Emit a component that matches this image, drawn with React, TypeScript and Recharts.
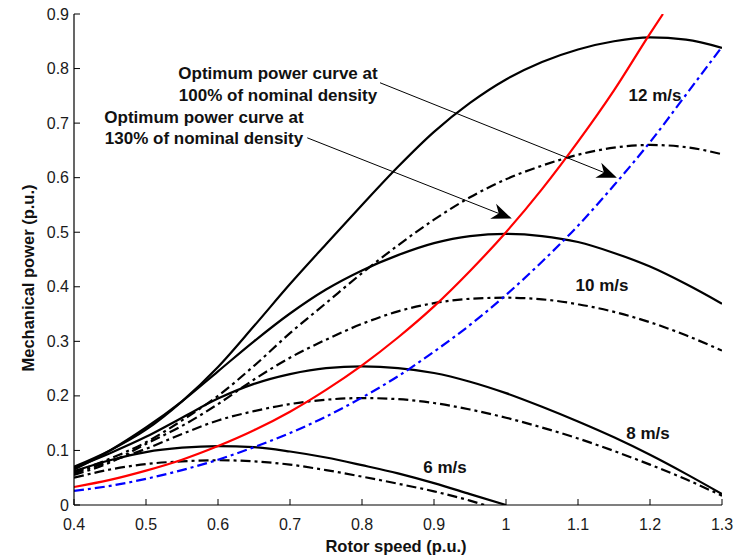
import React from "react";
import { LineChart, Line, XAxis, YAxis, ReferenceLine } from "recharts";

const XS = [0.4, 0.45, 0.5, 0.55, 0.6, 0.65, 0.7, 0.75, 0.8, 0.85, 0.9, 0.95, 1.0, 1.05, 1.1, 1.15, 1.2, 1.25, 1.3];

const V12_SOLID = [0.07, 0.1, 0.138, 0.19, 0.253, 0.328, 0.405, 0.478, 0.55, 0.62, 0.684, 0.737, 0.78, 0.812, 0.835, 0.85, 0.857, 0.853, 0.838];
const V12_DASH = [0.06, 0.085, 0.115, 0.155, 0.2, 0.255, 0.315, 0.37, 0.425, 0.476, 0.523, 0.564, 0.597, 0.622, 0.642, 0.655, 0.66, 0.656, 0.643];
const V10_SOLID = [0.065, 0.1, 0.142, 0.19, 0.245, 0.3, 0.351, 0.395, 0.43, 0.458, 0.48, 0.493, 0.497, 0.493, 0.482, 0.462, 0.437, 0.405, 0.369];
const V10_DASH = [0.055, 0.078, 0.112, 0.145, 0.185, 0.23, 0.27, 0.303, 0.332, 0.355, 0.37, 0.378, 0.38, 0.377, 0.368, 0.354, 0.335, 0.311, 0.283];
const V8_SOLID = [0.068, 0.095, 0.125, 0.16, 0.195, 0.222, 0.24, 0.251, 0.254, 0.251, 0.242, 0.226, 0.205, 0.18, 0.153, 0.124, 0.092, 0.057, 0.02];
const V8_DASH = [0.058, 0.08, 0.103, 0.13, 0.155, 0.172, 0.185, 0.193, 0.196, 0.194, 0.187, 0.175, 0.16, 0.142, 0.122, 0.099, 0.074, 0.047, 0.017];
const X6_SOLID = [0.4, 0.45, 0.5, 0.55, 0.6, 0.65, 0.7, 0.75, 0.8, 0.85, 0.9, 0.95, 1.0];
const V6_SOLID = [0.062, 0.082, 0.097, 0.105, 0.108, 0.106, 0.098, 0.087, 0.073, 0.058, 0.04, 0.02, 0.0];
const X6_DASH = [0.4, 0.45, 0.5, 0.55, 0.6, 0.65, 0.7, 0.75, 0.8, 0.85, 0.9, 0.95, 0.97];
const V6_DASH = [0.05, 0.065, 0.075, 0.08, 0.082, 0.08, 0.074, 0.064, 0.052, 0.039, 0.025, 0.008, 0.0];
const X_RED = [0.4, 0.45, 0.5, 0.55, 0.6, 0.65, 0.7, 0.75, 0.8, 0.85, 0.9, 0.95, 1.0, 1.05, 1.1, 1.15, 1.2, 1.218];
const V_RED = [0.033, 0.046, 0.063, 0.083, 0.108, 0.137, 0.171, 0.211, 0.256, 0.307, 0.364, 0.429, 0.5, 0.579, 0.666, 0.76, 0.864, 0.9];
const V_BLUE = [0.026, 0.035, 0.048, 0.064, 0.083, 0.106, 0.132, 0.162, 0.197, 0.236, 0.281, 0.33, 0.385, 0.446, 0.512, 0.586, 0.665, 0.752, 0.84];

const X_TICKS = [0.4, 0.5, 0.6, 0.7, 0.8, 0.9, 1.0, 1.1, 1.2, 1.3];
const Y_TICKS = [0, 0.1, 0.2, 0.3, 0.4, 0.5, 0.6, 0.7, 0.8, 0.9];

const ARROW_100 = [{ x: 0.825, y: 0.774 }, { x: 1.154, y: 0.6 }];
const ARROW_130 = [{ x: 0.724, y: 0.673 }, { x: 1.008, y: 0.525 }];

const mk = (xs: number[], vs: number[]) => xs.map((x, i) => ({ x, y: vs[i] }));

const FONT = "'Liberation Sans', Arial, sans-serif";
const fmt = (v: number) => String(Math.round(v * 10) / 10);
const TL = 6;

const BottomTick = (p: any) => (
  <g>
    <line x1={p.x} x2={p.x} y1={p.y} y2={p.y - TL} stroke="#000" strokeWidth={1} />
    <text x={p.x} y={p.y + 19} textAnchor="middle" dominantBaseline="central" fontFamily={FONT} fontSize={16} fill="#1a1a1a">
      {fmt(p.payload.value)}
    </text>
  </g>
);
const LeftTick = (p: any) => (
  <g>
    <line x1={p.x} x2={p.x + TL} y1={p.y} y2={p.y} stroke="#000" strokeWidth={1} />
    <text x={p.x - 5} y={p.y} textAnchor="end" dominantBaseline="central" fontFamily={FONT} fontSize={16} fill="#1a1a1a">
      {fmt(p.payload.value)}
    </text>
  </g>
);
const TopTick = (p: any) => (
  <line x1={p.x} x2={p.x} y1={p.y} y2={p.y + TL} stroke="#000" strokeWidth={1} />
);
const RightTick = (p: any) => (
  <line x1={p.x} x2={p.x - TL} y1={p.y} y2={p.y} stroke="#000" strokeWidth={1} />
);

const ArrowShape = (p: any) => {
  const { x1, y1, x2, y2 } = p;
  if ([x1, y1, x2, y2].some((v) => v === undefined || isNaN(v))) return null;
  const ang = Math.atan2(y2 - y1, x2 - x1);
  const L = 20;
  const W = 8;
  const bx = x2 - L * Math.cos(ang);
  const by = y2 - L * Math.sin(ang);
  const nx = x2 - 0.7 * L * Math.cos(ang);
  const ny = y2 - 0.7 * L * Math.sin(ang);
  const px = -Math.sin(ang);
  const py = Math.cos(ang);
  const pts = `${x2},${y2} ${bx + W * px},${by + W * py} ${nx},${ny} ${bx - W * px},${by - W * py}`;
  return (
    <g>
      <line x1={x1} y1={y1} x2={nx} y2={ny} stroke="#000" strokeWidth={1} />
      <polygon points={pts} fill="#000" />
    </g>
  );
};

const DASH = "10 4 3 4";
const SW = 2.2;

export default function App() {
  const textStyle = { fontFamily: FONT, fontWeight: 700, fill: "#111" } as any;
  return (
    <div style={{ position: "absolute", left: 0, top: 0, width: 741, height: 557 }}>
      <LineChart width={741} height={557} margin={{ top: 14, right: 19, bottom: 0, left: 14 }}>
        <XAxis
          dataKey="x"
          type="number"
          domain={[0.4, 1.3]}
          ticks={X_TICKS}
          allowDataOverflow
          height={52}
          tickSize={0}
          tickMargin={0}
          tickLine={false}
          axisLine={{ stroke: "#000", strokeWidth: 1.2 }}
          tick={<BottomTick />}
          interval={0}
        />
        <XAxis
          xAxisId="top"
          orientation="top"
          dataKey="x"
          type="number"
          domain={[0.4, 1.3]}
          ticks={X_TICKS}
          height={0}
          tickSize={0}
          tickMargin={0}
          tickLine={false}
          axisLine={{ stroke: "#000", strokeWidth: 1.2 }}
          tick={<TopTick />}
          interval={0}
        />
        <YAxis
          type="number"
          domain={[0, 0.9]}
          ticks={Y_TICKS}
          allowDataOverflow
          width={60}
          tickSize={0}
          tickMargin={0}
          tickLine={false}
          axisLine={{ stroke: "#000", strokeWidth: 1.2 }}
          tick={<LeftTick />}
          interval={0}
        />
        <YAxis
          yAxisId="right"
          orientation="right"
          type="number"
          domain={[0, 0.9]}
          ticks={Y_TICKS}
          width={0}
          tickSize={0}
          tickMargin={0}
          tickLine={false}
          axisLine={{ stroke: "#000", strokeWidth: 1.2 }}
          tick={<RightTick />}
          interval={0}
        />
        <Line data={mk(XS, V12_SOLID)} dataKey="y" type="monotone" stroke="#000" strokeWidth={SW} dot={false} isAnimationActive={false} />
        <Line data={mk(XS, V12_DASH)} dataKey="y" type="monotone" stroke="#000" strokeWidth={SW} strokeDasharray={DASH} dot={false} isAnimationActive={false} />
        <Line data={mk(XS, V10_SOLID)} dataKey="y" type="monotone" stroke="#000" strokeWidth={SW} dot={false} isAnimationActive={false} />
        <Line data={mk(XS, V10_DASH)} dataKey="y" type="monotone" stroke="#000" strokeWidth={SW} strokeDasharray={DASH} dot={false} isAnimationActive={false} />
        <Line data={mk(XS, V8_SOLID)} dataKey="y" type="monotone" stroke="#000" strokeWidth={SW} dot={false} isAnimationActive={false} />
        <Line data={mk(XS, V8_DASH)} dataKey="y" type="monotone" stroke="#000" strokeWidth={SW} strokeDasharray={DASH} dot={false} isAnimationActive={false} />
        <Line data={mk(X6_SOLID, V6_SOLID)} dataKey="y" type="monotone" stroke="#000" strokeWidth={SW} dot={false} isAnimationActive={false} />
        <Line data={mk(X6_DASH, V6_DASH)} dataKey="y" type="monotone" stroke="#000" strokeWidth={SW} strokeDasharray={DASH} dot={false} isAnimationActive={false} />
        <Line data={mk(XS, V_BLUE)} dataKey="y" type="monotone" stroke="#0000ff" strokeWidth={SW} strokeDasharray={DASH} dot={false} isAnimationActive={false} />
        <Line data={mk(X_RED, V_RED)} dataKey="y" type="monotone" stroke="#ff0000" strokeWidth={SW} dot={false} isAnimationActive={false} />
        <ReferenceLine segment={ARROW_100} ifOverflow="visible" shape={ArrowShape} />
        <ReferenceLine segment={ARROW_130} ifOverflow="visible" shape={ArrowShape} />
      </LineChart>
      <svg width={741} height={557} style={{ position: "absolute", left: 0, top: 0, pointerEvents: "none" }}>
        <text x={278} y={73} textAnchor="middle" dominantBaseline="central" fontSize={17} style={textStyle}>Optimum power curve at</text>
        <text x={278} y={95} textAnchor="middle" dominantBaseline="central" fontSize={17} style={textStyle}>100% of nominal density</text>
        <text x={204} y={117} textAnchor="middle" dominantBaseline="central" fontSize={17} style={textStyle}>Optimum power curve at</text>
        <text x={204} y={138} textAnchor="middle" dominantBaseline="central" fontSize={17} style={textStyle}>130% of nominal density</text>
        <text x={655} y={95} textAnchor="middle" dominantBaseline="central" fontSize={17} style={textStyle}>12 m/s</text>
        <text x={602} y={285} textAnchor="middle" dominantBaseline="central" fontSize={17} style={textStyle}>10 m/s</text>
        <text x={648} y={433} textAnchor="middle" dominantBaseline="central" fontSize={17} style={textStyle}>8 m/s</text>
        <text x={445} y={467} textAnchor="middle" dominantBaseline="central" fontSize={17} style={textStyle}>6 m/s</text>
        <text x={396} y={546} textAnchor="middle" dominantBaseline="central" fontSize={16.5} style={textStyle}>Rotor speed (p.u.)</text>
        <text x={28} y={278} textAnchor="middle" dominantBaseline="central" fontSize={16.5} transform="rotate(-90 28 278)" style={textStyle}>Mechanical power (p.u.)</text>
      </svg>
    </div>
  );
}
